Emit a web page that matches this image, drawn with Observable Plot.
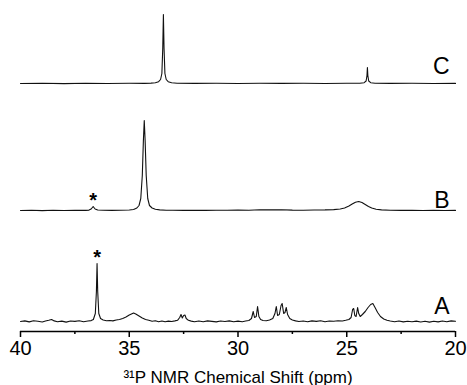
<!DOCTYPE html>
<html>
<head>
<meta charset="utf-8">
<script src="https://cdn.jsdelivr.net/npm/d3@7"></script>
<script src="https://cdn.jsdelivr.net/npm/@observablehq/plot@0.6"></script>
<style>
  html, body { margin: 0; padding: 0; background: #fff; }
  svg { display: block; }
</style>
</head>
<body>
<div id="chart"></div>
<script>
// ---- data: [chemical shift (ppm), intensity (a.u.)] ----
const spectrumA = [
  [40.00,0.0],[39.80,0.6],[39.60,-0.4],[39.40,0.8],[39.20,0.2],[39.00,-0.5],[38.85,0.5],[38.70,1.2],
  [38.57,2.0],[38.45,0.6],[38.30,-0.3],[38.10,0.4],[37.90,-0.6],[37.70,0.5],[37.50,0.1],[37.30,0.7],
  [37.10,-0.2],[36.90,0.5],[36.75,0.9],[36.65,2.0],[36.56,8],[36.51,30],[36.48,58],[36.45,30],
  [36.40,8],[36.32,3],[36.20,1.5],[36.05,0.8],[35.90,1.0],[35.75,0.6],[35.60,1.5],[35.45,2.0],
  [35.30,3.0],[35.15,4.5],[35.00,6.5],[34.90,7.5],[34.80,8.5],[34.70,7.5],[34.55,5.5],[34.40,3.5],
  [34.25,2.0],[34.10,1.2],[33.95,0.3],[33.80,0.8],[33.65,-0.2],[33.50,0.5],[33.35,-0.3],[33.20,0.4],
  [33.05,0.0],[32.90,0.6],[32.78,1.2],[32.68,4],[32.62,7],[32.56,3.5],[32.50,6],[32.44,6.5],
  [32.38,3],[32.28,1.2],[32.15,0.4],[32.00,-0.3],[31.80,0.5],[31.60,-0.2],[31.40,0.6],[31.20,0.1],
  [31.00,-0.4],[30.80,0.5],[30.60,0.0],[30.40,0.6],[30.20,-0.3],[30.00,0.4],[29.80,-0.2],[29.65,0.5],
  [29.50,1.0],[29.38,3],[29.30,10],[29.24,4],[29.16,5],[29.10,15],[29.04,5],[28.96,2],
  [28.85,1.0],[28.70,0.8],[28.55,1.5],[28.40,3],[28.30,8],[28.24,15],[28.18,6],[28.10,7],
  [28.02,16],[27.97,18],[27.90,8],[27.84,9],[27.78,14],[27.72,7],[27.62,3],[27.50,1.5],
  [27.35,0.6],[27.20,0.0],[27.00,0.5],[26.80,-0.2],[26.60,0.6],[26.40,0.1],[26.20,0.7],[26.00,-0.3],
  [25.80,0.5],[25.60,0.2],[25.40,0.8],[25.20,0.5],[25.05,1.2],[24.90,2.0],[24.80,4],[24.73,12],
  [24.68,13],[24.63,6],[24.57,5],[24.50,14],[24.45,8],[24.38,5],[24.28,7],[24.15,10],
  [24.02,14],[23.90,17],[23.80,18],[23.70,14],[23.58,9],[23.45,5],[23.30,2.5],[23.15,1.2],
  [23.00,0.5],[22.80,-0.2],[22.60,0.5],[22.40,-0.4],[22.20,0.3],[22.00,-0.3],[21.80,0.4],[21.60,-0.5],
  [21.40,0.2],[21.20,-0.6],[21.00,0.3],[20.80,-0.4],[20.60,0.5],[20.40,-0.2],[20.20,0.6],[20.00,0.2]
];
const spectrumB = [
  [40.0,0],[39.5,0.2],[39.0,-0.1],[38.5,0.2],[38.0,0],[37.5,0.2],[37.0,0.1],[36.85,0.4],
  [36.75,1.5],[36.66,4],[36.57,1.5],[36.45,0.5],[36.2,0.2],[35.8,0.1],[35.4,0.3],[35.0,0.5],
  [34.80,1.0],[34.65,2.5],[34.55,5],[34.47,12],[34.40,35],[34.35,70],[34.31,90],[34.27,70],
  [34.22,35],[34.15,12],[34.07,5],[33.95,2.5],[33.80,1.2],[33.60,0.6],[33.30,0.3],[33.0,0.2],
  [32.5,0.1],[32.0,0.3],[31.5,0.1],[31.0,0.3],[30.5,0.2],[30.0,0.4],[29.5,0.3],[29.0,0.8],
  [28.5,0.6],[28.0,0.8],[27.5,0.4],[27.0,0.3],[26.5,0.5],[26.0,0.6],[25.6,0.9],[25.3,1.5],
  [25.1,2.5],[24.9,4.5],[24.75,6.5],[24.6,8.3],[24.45,9],[24.30,8],[24.15,6],[24.0,4],
  [23.85,2.5],[23.65,1.3],[23.4,0.6],[23.0,0.3],[22.5,0.1],[22.0,0.2],[21.5,0.0],[21.0,0.2],
  [20.5,0.0],[20.0,0.1]
];
const spectrumC = [
  [40.0,0],[39.0,0.2],[38.0,-0.1],[37.0,0.2],[36.0,0],[35.0,0.2],[34.3,0.1],[34.0,0.4],
  [33.80,0.8],[33.65,1.8],[33.56,4],[33.50,10],[33.46,35],[33.43,69],[33.40,35],[33.36,10],
  [33.30,4],[33.21,1.8],[33.05,0.8],[32.8,0.3],[32.0,0.1],[31.0,0.2],[30.0,0.0],[29.0,0.2],
  [28.0,0.1],[27.0,0.2],[26.0,0.0],[25.0,0.2],[24.4,0.2],[24.2,0.8],[24.11,2.5],[24.07,8],
  [24.05,16],[24.03,8],[23.99,2.5],[23.9,0.8],[23.7,0.2],[23.0,0.1],[22.0,0.2],[21.0,0.0],
  [20.0,0.1]
];
const seriesNames = ["A", "B", "C"];
const impurityPeaks = [["A", 36.48, 58], ["B", 36.66, 4]]; // marked with *
const majorTicks = [40, 35, 30, 25, 20];
const minorTicks = [37.5, 32.5, 27.5, 22.5];
const axisTitle = "\u00B3\u00B9P NMR Chemical Shift (ppm)";

// ---- layout (vertical stacking offsets of the traces) ----
const stackOffset = {A: 10, B: 121, C: 248};
const labelLift = {A: 15, B: 10, C: 17};
const spectra = {A: spectrumA, B: spectrumB, C: spectrumC};

const traceMarks = seriesNames.map(s =>
  Plot.line(spectra[s], {
    x: d => d[0], y: d => d[1] + stackOffset[s],
    stroke: "#111", strokeWidth: 1.1, strokeLinejoin: "round"
  })
);

const chart = Plot.plot({
  width: 467,
  height: 385,
  marginLeft: 20,
  marginRight: 12,
  marginTop: 10,
  marginBottom: 54,
  style: {fontFamily: "'Liberation Sans', Arial, sans-serif", background: "#fff", color: "#000", overflow: "visible"},
  x: {domain: [40, 20]},
  y: {domain: [0, 321], axis: null},
  marks: [
    ...traceMarks,
    Plot.ruleY([0], {stroke: "#000", strokeWidth: 1.5}),
    Plot.axisX({ticks: majorTicks, tickSize: 6, tickPadding: 3, fontSize: 20, strokeWidth: 1.5, label: null, tickFormat: d => String(d)}),
    Plot.axisX({ticks: minorTicks, tickSize: 3, strokeWidth: 1.5, label: null, tickFormat: () => ""}),
    Plot.text(seriesNames, {
      x: 20, y: d => stackOffset[d] + labelLift[d], text: d => d,
      textAnchor: "end", dx: -6, fontSize: 23, fill: "#000"
    }),
    Plot.text(impurityPeaks, {
      x: d => d[1], y: d => d[2] + stackOffset[d[0]] + 14, text: () => "*",
      fontSize: 20, fontWeight: "bold", lineAnchor: "top", fill: "#000"
    }),
    Plot.text([axisTitle], {
      frameAnchor: "bottom", text: d => d, dy: 51, lineAnchor: "bottom", fontSize: 17, fill: "#000"
    })
  ]
});
document.getElementById("chart").appendChild(chart);
</script>
</body>
</html>
